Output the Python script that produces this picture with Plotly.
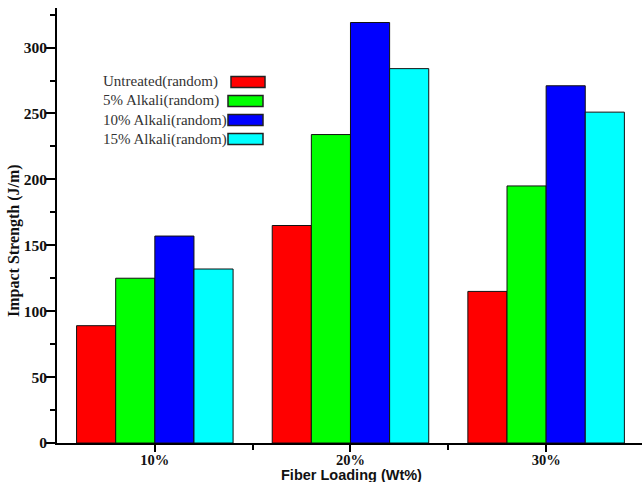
import plotly.graph_objects as go

categories = ["10%", "20%", "30%"]
series_names = ["Untreated(random)", "5% Alkali(random)", "10% Alkali(random)", "15% Alkali(random)"]
untreated = [89, 165, 115]
alkali5 = [125, 234, 195]
alkali10 = [157, 319, 271]
alkali15 = [132, 284, 251]
colors = ["#ff0000", "#00ff00", "#0000ff", "#00ffff"]
y_ticks = [0, 50, 100, 150, 200, 250, 300]

values = [untreated, alkali5, alkali10, alkali15]
xpos = list(range(len(categories)))

W, H = 642, 482
L, R, T, B = 57, 0, 8, 39
pw, ph = W - L - R, H - T - B


def px(x):
    return (x - L) / pw


def py(y):
    return (H - B - y) / ph


serif = "Liberation Serif, Times New Roman, serif"

fig = go.Figure()
for name, vals, c in zip(series_names, values, colors):
    fig.add_trace(go.Bar(
        x=xpos, y=vals, name=name, marker=dict(color=c, line=dict(color="#111111", width=1)),
        showlegend=False,
    ))

# custom legend (text left, colour box right, as in reference)
row_y = [82, 101, 120, 139]
box_x = [(231, 265), (228, 263), (228, 263), (228, 263)]
shapes = []
annotations = []
for i, (name, c) in enumerate(zip(series_names, colors)):
    annotations.append(dict(
        x=px(101), y=py(row_y[i]), xref="paper", yref="paper", text=name,
        showarrow=False, xanchor="left", yanchor="middle",
        font=dict(family=serif, size=15, color="#333333"),
    ))
    x0, x1 = box_x[i]
    shapes.append(dict(
        type="rect", xref="paper", yref="paper",
        x0=px(x0), x1=px(x1), y0=py(row_y[i] - 5.5), y1=py(row_y[i] + 5.5),
        fillcolor=c, line=dict(color="#222222", width=1.5),
    ))

# axis titles
annotations.append(dict(
    x=px(14), y=py(241), xref="paper", yref="paper", text="<b>Impact Strength (J/m)</b>",
    showarrow=False, textangle=-90, xanchor="center", yanchor="middle",
    font=dict(family=serif, size=16, color="#111111"),
))
annotations.append(dict(
    x=px(351), y=py(465), xref="paper", yref="paper", text="<b>Fiber Loading (Wt%)</b>",
    showarrow=False, xanchor="center", yanchor="top",
    font=dict(family="Liberation Sans, Arial, sans-serif", size=14.5, color="#111111"),
))

fig.update_layout(
    width=W, height=H,
    margin=dict(l=L, r=R, t=T, b=B),
    paper_bgcolor="white", plot_bgcolor="white",
    barmode="group", bargap=0.2, bargroupgap=0,
    shapes=shapes, annotations=annotations,
    xaxis=dict(
        range=[-0.5, 2.49], tickvals=xpos, ticktext=categories,
        showline=True, linecolor="black", linewidth=2,
        ticks="outside", ticklen=7, tickwidth=2, tickcolor="black",
        minor=dict(tickvals=[0.5, 1.5], ticks="outside", ticklen=5, tickwidth=2, tickcolor="black"),
        showgrid=False, zeroline=False, ticklabelstandoff=-4,
        tickfont=dict(family=serif, size=14.5, color="#111111", weight="bold"),
    ),
    yaxis=dict(
        range=[0, 330], tickvals=y_ticks,
        showline=True, linecolor="black", linewidth=2,
        ticks="outside", ticklen=9, tickwidth=2, tickcolor="black",
        minor=dict(dtick=25, tick0=0, ticks="outside", ticklen=5, tickwidth=2, tickcolor="black"),
        showgrid=False, zeroline=False, ticklabelstandoff=-4,
        tickfont=dict(family=serif, size=15.5, color="#111111", weight="bold"),
    ),
)

fig.write_html("out.html")
